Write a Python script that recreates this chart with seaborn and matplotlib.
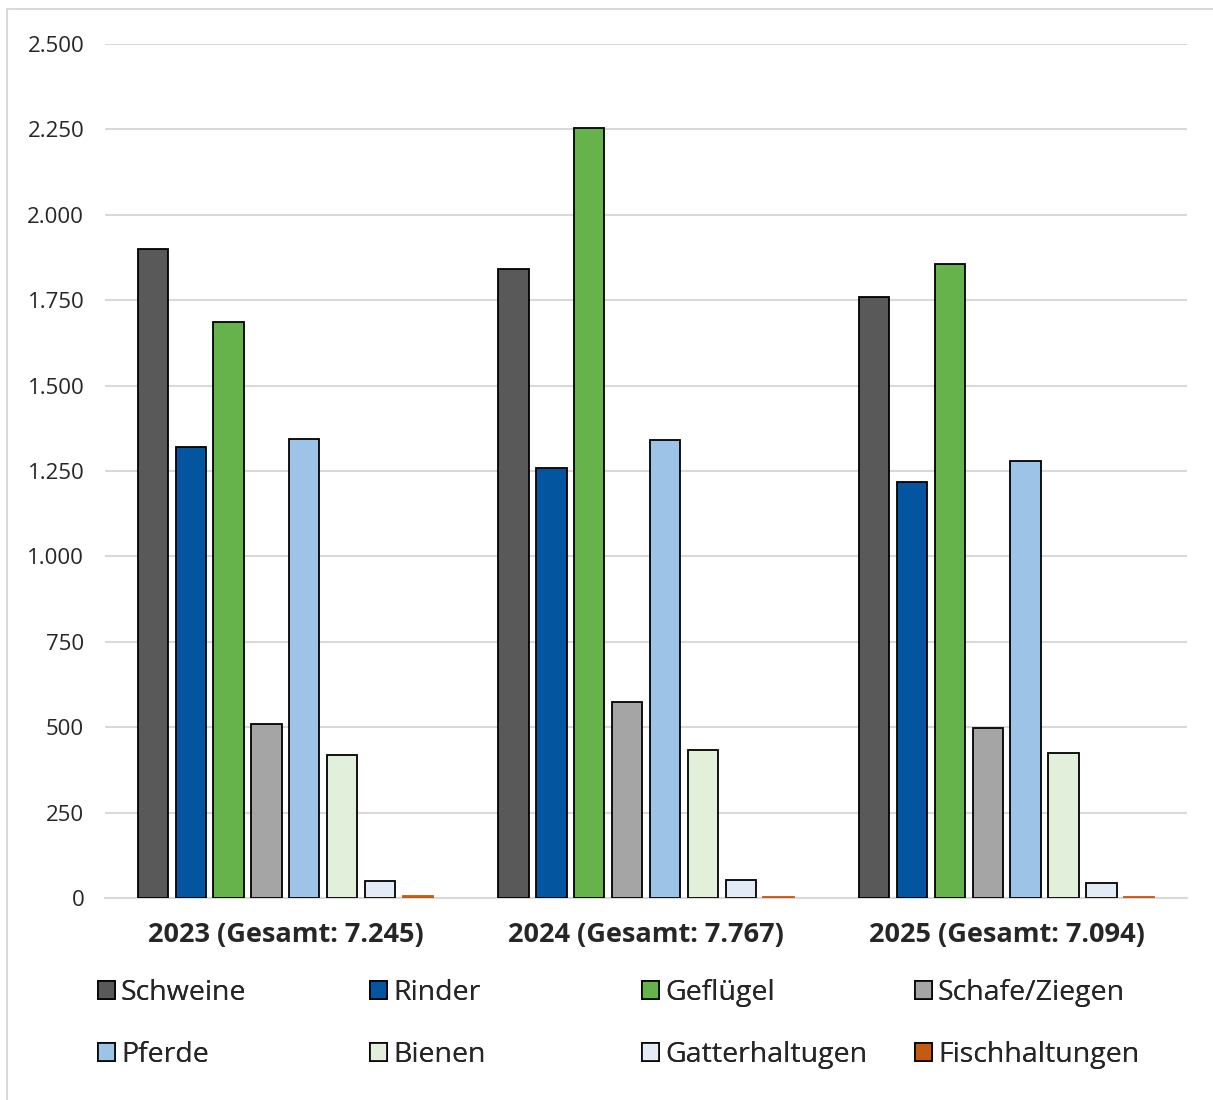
import matplotlib
matplotlib.use("Agg")
import matplotlib.pyplot as plt
import matplotlib.patches as mpatches
import seaborn as sns
import pandas as pd

# Daten
jahre = ["2023", "2024", "2025"]
gesamt = ["7.245", "7.767", "7.094"]
tierarten = ["Schweine", "Rinder", "Geflügel", "Schafe/Ziegen",
             "Pferde", "Bienen", "Gatterhaltugen", "Fischhaltungen"]
werte_2023 = [1900, 1320, 1685, 510, 1345, 420, 50, 5]
werte_2024 = [1840, 1258, 2255, 575, 1340, 433, 53, 4]
werte_2025 = [1760, 1218, 1857, 498, 1278, 425, 45, 4]
farben = ["#595959", "#02559E", "#66B34C", "#A5A5A5",
          "#9DC3E6", "#E2EFDA", "#E3ECF6", "#C55A11"]

labels = [f"{j} (Gesamt: {g})" for j, g in zip(jahre, gesamt)]
rows = []
for lab, werte in zip(labels, [werte_2023, werte_2024, werte_2025]):
    for t, w in zip(tierarten, werte):
        rows.append({"Jahr": lab, "Tierart": t, "Anzahl": w})
df = pd.DataFrame(rows)

sns.set_style("white")
plt.rcParams["font.family"] = ["Open Sans", "DejaVu Sans"]

fig = plt.figure(figsize=(12.13, 11), dpi=100)
ax = fig.add_axes([0.0866, 0.1836, 0.892, 0.7764])

sns.barplot(data=df, x="Jahr", y="Anzahl", hue="Tierart", hue_order=tierarten,
            palette=farben, saturation=1, width=0.84, gap=0.2, edgecolor="black",
            linewidth=1.3, ax=ax, legend=False, zorder=3)

# Fischhaltungen ohne schwarzen Rand
for p in ax.containers[-1]:
    p.set_edgecolor(farben[-1])

ax.set_ylim(0, 2500)
ax.set_xlim(-0.5, 2.5)
ticks = list(range(0, 2501, 250))
ax.set_yticks(ticks)
ax.set_yticklabels([f"{t:,}".replace(",", ".") for t in ticks], fontsize=16)
ax.set_xticks(range(len(labels)))
ax.set_xticklabels(labels, fontsize=19.5, fontweight="bold")
ax.tick_params(axis="y", length=0, pad=15)
ax.tick_params(axis="x", length=0, pad=17)
ax.yaxis.grid(True, color="#D9D9D9", linewidth=1.5, zorder=0)
ax.set_axisbelow(True)
for s in ["top", "right", "left"]:
    ax.spines[s].set_visible(False)
ax.spines["bottom"].set_color("#D9D9D9")
ax.spines["bottom"].set_linewidth(1.5)
ax.set_xlabel("")
ax.set_ylabel("")

# Legende: 4 Spalten mit je 2 Einträgen
handles = [mpatches.Patch(facecolor=c, edgecolor="black", linewidth=1.2, label=t)
           for c, t in zip(farben, tierarten)]
spalten_x = [98, 370, 642, 915]
for k, x in enumerate(spalten_x):
    idx = [k, k + 4]
    leg = fig.legend([handles[i] for i in idx], [tierarten[i] for i in idx],
                     loc="upper left", bbox_to_anchor=(x / 1213, 1 - 979 / 1100),
                     frameon=False, fontsize=20.5,
                     handlelength=0.6, handleheight=0.6, handletextpad=0.2,
                     labelspacing=1.2, borderaxespad=0, borderpad=0)
    fig.add_artist(leg)

# heller Rahmen
fig.patches.append(mpatches.Rectangle((7 / 1213, -0.01), 1.1, 1 - 9 / 1100 + 0.01,
                                      transform=fig.transFigure, fill=False,
                                      edgecolor="#D9D9D9", linewidth=1.5))

fig.savefig("out.png", dpi=100)
